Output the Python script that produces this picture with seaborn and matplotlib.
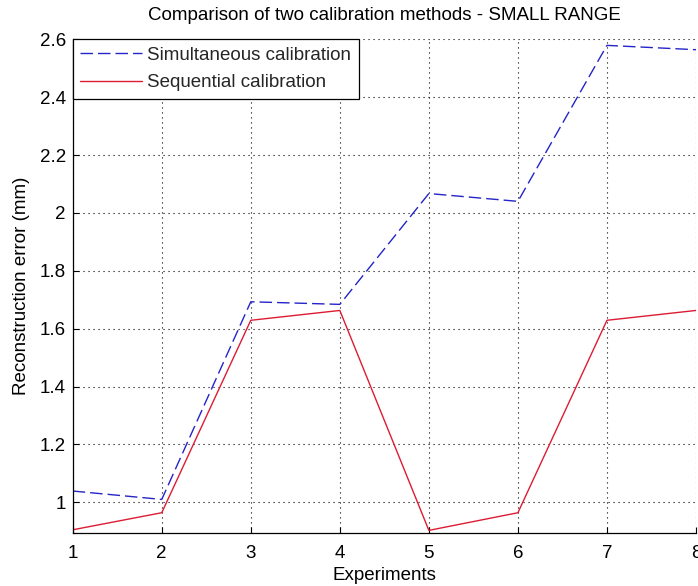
import matplotlib
matplotlib.use("Agg")
import matplotlib.pyplot as plt
import seaborn as sns
import numpy as np
import pandas as pd
from matplotlib.ticker import FuncFormatter, MultipleLocator

experiments = [1, 2, 3, 4, 5, 6, 7, 8]
simultaneous = [1.039, 1.010, 1.693, 1.684, 2.067, 2.040, 2.579, 2.564]
sequential = [0.905, 0.964, 1.629, 1.663, 0.903, 0.964, 1.629, 1.663]
series_names = ["Simultaneous calibration", "Sequential calibration"]
title_text = "Comparison of two calibration methods - SMALL RANGE"
xlabel_text = "Experiments"
ylabel_text = "Reconstruction error (mm)"

sns.set_style("white")
plt.rcParams['font.family'] = ['Liberation Sans', 'DejaVu Sans']
FS = 13.5

fig = plt.figure(figsize=(6.98, 5.86), dpi=100)
ax = fig.add_axes([72.7 / 698, 1 - 532.7 / 586, (696 - 72.7) / 698, (532.7 - 39.3) / 586])

df = pd.DataFrame({
    "x": experiments * 2,
    "y": simultaneous + sequential,
    "method": [series_names[0]] * len(experiments) + [series_names[1]] * len(experiments),
})

sns.lineplot(data=df, x="x", y="y", hue="method", style="method",
             palette={series_names[0]: "#2424c8", series_names[1]: "#dc1c34"},
             dashes={series_names[0]: (9, 3.6), series_names[1]: ""},
             linewidth=1.0, ax=ax, legend=True)

ax.set_xlim(1, 8)
ax.set_ylim(0.895, 2.6)
ax.xaxis.set_major_locator(MultipleLocator(1))
ax.yaxis.set_major_locator(MultipleLocator(0.2))
ax.yaxis.set_major_formatter(FuncFormatter(lambda v, p: "%g" % round(v, 2)))

ax.grid(True, color="black", linestyle=(0, (1, 3.5)), linewidth=0.8)
for s in ["top", "right"]:
    ax.spines[s].set_visible(False)
for s in ["left", "bottom"]:
    ax.spines[s].set_color("black")
    ax.spines[s].set_linewidth(0.9)

ax.tick_params(direction="in", length=4, width=0.8, colors="black", labelsize=FS,
               left=True, bottom=True)
ax.tick_params(axis="x", pad=9)
ax.tick_params(axis="y", pad=5)

ax.set_title(title_text, fontsize=FS, pad=14, color="black")
ax.set_xlabel(xlabel_text, fontsize=FS, labelpad=3.5, color="black")
ax.set_ylabel(ylabel_text, fontsize=FS, labelpad=7, color="black")

handles, labels = ax.get_legend_handles_labels()
leg = ax.legend(handles, labels, loc="upper left", bbox_to_anchor=(0, 1), borderaxespad=0,
                fancybox=False, framealpha=1, edgecolor="black", fontsize=FS,
                handlelength=3.3, handletextpad=0.27, labelspacing=0.55, borderpad=0.4)
leg.get_frame().set_linewidth(0.9)

fig.savefig("out.png", dpi=100)
